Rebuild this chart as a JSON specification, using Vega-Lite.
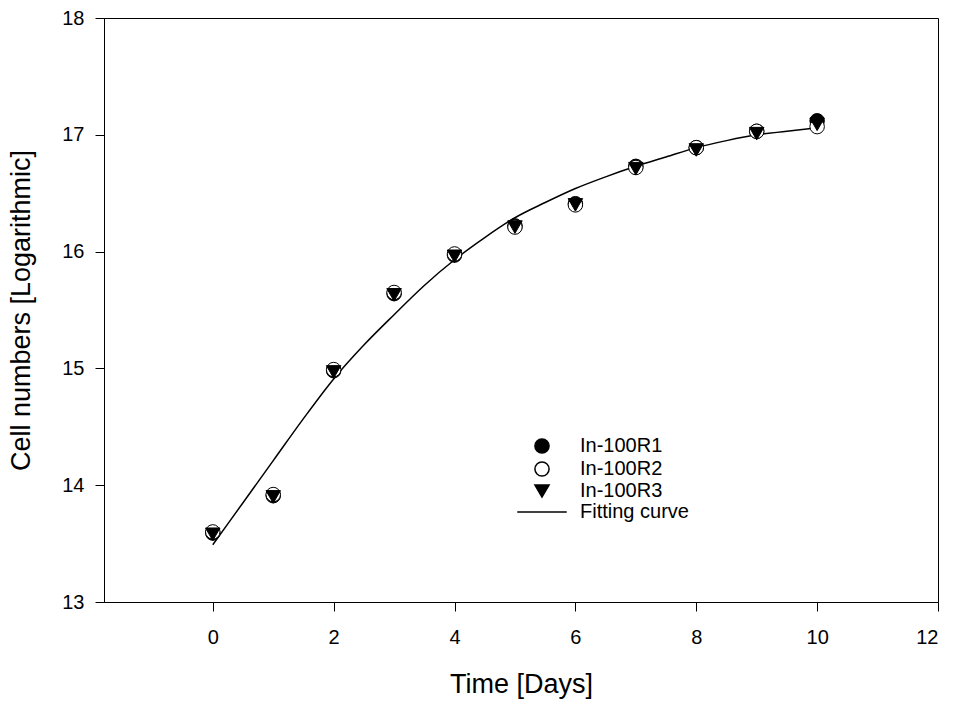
{
  "$schema": "https://vega.github.io/schema/vega-lite/v6.json",
  "autosize": "none",
  "width": 834,
  "height": 584,
  "padding": {"left": 104, "top": 18, "right": 18, "bottom": 102},
  "background": "white",
  "config": {
    "font": "Liberation Sans",
    "view": {"stroke": "black", "strokeWidth": 1},
    "axis": {"grid": false, "domainColor": "black", "tickColor": "black", "labelColor": "black", "titleColor": "black", "labelFont": "Liberation Sans", "titleFont": "Liberation Sans", "titleFontWeight": "normal", "labelFontSize": 20, "titleFontSize": 27, "tickSize": 9, "domainWidth": 1, "tickWidth": 1, "format": "d"}
  },
  "datasets": {
    "points": [
      {"day": 0, "value": 13.59, "series": "In-100R1"},
      {"day": 1, "value": 13.91, "series": "In-100R1"},
      {"day": 2, "value": 14.98, "series": "In-100R1"},
      {"day": 3, "value": 15.64, "series": "In-100R1"},
      {"day": 4, "value": 15.97, "series": "In-100R1"},
      {"day": 5, "value": 16.22, "series": "In-100R1"},
      {"day": 6, "value": 16.41, "series": "In-100R1"},
      {"day": 7, "value": 16.73, "series": "In-100R1"},
      {"day": 8, "value": 16.89, "series": "In-100R1"},
      {"day": 9, "value": 17.03, "series": "In-100R1"},
      {"day": 10, "value": 17.12, "series": "In-100R1"},
      {"day": 0, "value": 13.6, "series": "In-100R2"},
      {"day": 1, "value": 13.92, "series": "In-100R2"},
      {"day": 2, "value": 14.99, "series": "In-100R2"},
      {"day": 3, "value": 15.65, "series": "In-100R2"},
      {"day": 4, "value": 15.98, "series": "In-100R2"},
      {"day": 5, "value": 16.21, "series": "In-100R2"},
      {"day": 6, "value": 16.4, "series": "In-100R2"},
      {"day": 7, "value": 16.72, "series": "In-100R2"},
      {"day": 8, "value": 16.89, "series": "In-100R2"},
      {"day": 9, "value": 17.03, "series": "In-100R2"},
      {"day": 10, "value": 17.07, "series": "In-100R2"},
      {"day": 0, "value": 13.58, "series": "In-100R3"},
      {"day": 1, "value": 13.9, "series": "In-100R3"},
      {"day": 2, "value": 14.97, "series": "In-100R3"},
      {"day": 3, "value": 15.63, "series": "In-100R3"},
      {"day": 4, "value": 15.96, "series": "In-100R3"},
      {"day": 5, "value": 16.21, "series": "In-100R3"},
      {"day": 6, "value": 16.4, "series": "In-100R3"},
      {"day": 7, "value": 16.71, "series": "In-100R3"},
      {"day": 8, "value": 16.87, "series": "In-100R3"},
      {"day": 9, "value": 17.01, "series": "In-100R3"},
      {"day": 10, "value": 17.09, "series": "In-100R3"}
    ],
    "curve": [
      {"day": 0, "value": 13.49},
      {"day": 0.5, "value": 13.85},
      {"day": 1, "value": 14.21},
      {"day": 1.5, "value": 14.57},
      {"day": 2, "value": 14.91},
      {"day": 2.5, "value": 15.2},
      {"day": 3, "value": 15.46},
      {"day": 3.5, "value": 15.71},
      {"day": 4, "value": 15.93},
      {"day": 4.5, "value": 16.12},
      {"day": 5, "value": 16.29},
      {"day": 5.5, "value": 16.42},
      {"day": 6, "value": 16.54},
      {"day": 6.5, "value": 16.64},
      {"day": 7, "value": 16.73},
      {"day": 7.5, "value": 16.81},
      {"day": 8, "value": 16.89},
      {"day": 8.5, "value": 16.95},
      {"day": 9, "value": 17.0},
      {"day": 9.5, "value": 17.03},
      {"day": 10, "value": 17.06}
    ]
  },
  "layer": [
    {
      "data": {"name": "curve"},
      "mark": {"type": "line", "color": "black", "strokeWidth": 1.5, "interpolate": "monotone"},
      "encoding": {
        "x": {"field": "day", "type": "quantitative", "scale": {"domain": [-1.8, 12], "nice": false, "zero": false},
              "axis": {"title": "Time [Days]", "values": [0, 2, 4, 6, 8, 10, 12], "labelPadding": 16, "titlePadding": 24}},
        "y": {"field": "value", "type": "quantitative", "scale": {"domain": [13, 18], "nice": false, "zero": false},
              "axis": {"title": "Cell numbers [Logarithmic]", "values": [13, 14, 15, 16, 17, 18], "labelPadding": 11, "titlePadding": 26}}
      }
    },
    {
      "data": {"name": "points"},
      "mark": {"type": "point", "filled": false, "stroke": "black", "strokeWidth": 1, "size": 210, "opacity": 1},
      "encoding": {
        "x": {"field": "day", "type": "quantitative"},
        "y": {"field": "value", "type": "quantitative"},
        "shape": {"field": "series", "type": "nominal",
          "scale": {"domain": ["In-100R1", "In-100R2", "In-100R3", "Fitting curve"], "range": ["circle", "circle", "triangle-down", "M-3.5,0H3.5"]},
          "legend": {"title": null, "orient": "none", "legendX": 428, "legendY": 418, "labelFontSize": 20, "labelColor": "black", "labelFont": "Liberation Sans", "labelOffset": 28, "symbolSize": 200, "rowPadding": 1,
            "encode": {"symbols": {"update": {"stroke": {"value": "black"}, "strokeWidth": {"value": 1.2}, "opacity": {"value": 1}}}}}},
        "fill": {"field": "series", "type": "nominal",
          "scale": {"domain": ["In-100R1", "In-100R2", "In-100R3", "Fitting curve"], "range": ["black", "white", "black", "transparent"]},
          "legend": {"title": null, "orient": "none", "legendX": 428, "legendY": 418, "labelFontSize": 20, "labelColor": "black", "labelFont": "Liberation Sans", "labelOffset": 28, "symbolSize": 200, "rowPadding": 1,
            "encode": {"symbols": {"update": {"stroke": {"value": "black"}, "strokeWidth": {"value": 1.2}, "opacity": {"value": 1}}}}}}
      }
    }
  ]
}
